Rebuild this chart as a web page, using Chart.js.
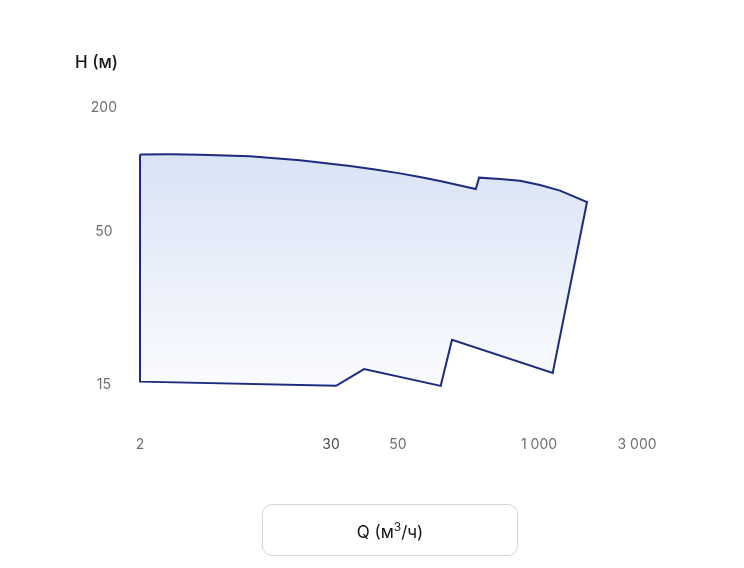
<!DOCTYPE html>
<html>
<head>
<meta charset="utf-8">
<script src="https://cdn.jsdelivr.net/npm/chart.js@4.4.1/dist/chart.umd.min.js"></script>
<style>
  body { margin: 0; background: #fff; font-family: Inter, "Noto Sans", sans-serif; }
  .wrap { position: relative; width: 744px; height: 568px; }
  .y-title { position: absolute; left: 75px; top: 51px; font-size: 17px; font-weight: 500; color: #151515; line-height: 22px; }
  .x-title { position: absolute; left: 262px; top: 504px; width: 254px; height: 50px; border: 1px solid #d6d6d6; border-radius: 10px;
             display: flex; align-items: center; justify-content: center; font-size: 17px; color: #151515; padding-top: 3px; box-sizing: content-box; height: 47px; }
  .x-title sup { font-size: 12px; line-height: 0; }
</style>
</head>
<body>
<div class="wrap">
  <canvas id="range-chart"></canvas>
  <div class="y-title">H (м)</div>
  <div class="x-title"><span>Q (м<sup>3</sup>/ч)</span></div>
</div>
<script>
// axis ticks (real units) and their labels
const qTicks = [2, 30, 50, 1000, 3000];
const qTickLabels = ["2", "30", "50", "1 000", "3 000"];
const hTicks = [15, 50, 200];
const hTickLabels = ["15", "50", "200"];

// outline of the working range: flow Q (m3/h) and head H (m)
const flowQ = [2, 3.1, 4.7, 9.5, 19.3, 34.7, 42, 52.2, 79.8, 122, 187, 261, 280, 437, 668, 1011, 1266, 1713, 1166, 157.5, 123.9, 38.6, 31.2, 2, 2];
const headH = [118.7, 118.9, 118.4, 116.3, 111.2, 104.4, 100.3, 96.0, 92.1, 88.1, 83.8, 80.6, 91.5, 90.1, 88.4, 84.3, 79.1, 69.6, 16.5, 21.4, 14.9, 17.0, 14.9, 15.4, 118.7];

// where each tick sits along its axis (the axes are not evenly spaced)
const qTickPos = [0, 191, 258, 399, 497];
const hTickPos = [0, 153.5, 277];

//piecewise log mapping between ticks
function toPos(v, vals, pos){
    const lv = Math.log10(v);
    let i = 0;
    while(i < vals.length - 2 && lv > Math.log10(vals[i + 1])){
        i++;
    }
    const a = Math.log10(vals[i]);
    const b = Math.log10(vals[i + 1]);
    return pos[i] + (lv - a) / (b - a) * (pos[i + 1] - pos[i]);
}

const points = flowQ.map((q, i) => ({x: toPos(q, qTicks, qTickPos), y: toPos(headH[i], hTicks, hTickPos)}));

Chart.defaults.font.family = "Inter";
Chart.defaults.font.size = 14;
Chart.defaults.color = "#6f6f6f";

const chart = document.getElementById("range-chart");
new Chart(chart, {
    type: "line",
    data: {
        datasets: [{
            data: points,
            borderColor: "#1d2b7f",
            borderWidth: 2,
            borderJoinStyle: "miter",
            pointRadius: 0,
            tension: 0,
            clip: 10,
            fill: "shape",
            backgroundColor: (ctx) => {
                const c = ctx.chart;
                if(!c.chartArea) return "#e6ecf8";
                const yScale = c.scales.y;
                const top = yScale.getPixelForValue(toPos(119, hTicks, hTickPos));
                const bottom = yScale.getPixelForValue(toPos(15, hTicks, hTickPos));
                const g = c.ctx.createLinearGradient(0, top, 0, bottom);
                g.addColorStop(0, "#d9e3f5");
                g.addColorStop(1, "#fafbff");
                return g;
            }
        }]
    },
    options: {
        responsive: true,
        maintainAspectRatio: false,
        animation: false,
        layout: {padding: {left: 0, right: 107, top: 108, bottom: 103}},
        plugins: {
            legend: {display: false},
            tooltip: {enabled: false}
        },
        scales: {
            x: {
                type: "linear",
                min: qTickPos[0],
                max: qTickPos[qTickPos.length - 1],
                grid: {display: false},
                border: {display: false},
                afterBuildTicks: (scale) => { scale.ticks = qTickPos.map(v => ({value: v})); },
                afterFit: (scale) => { scale.height = 80; },
                ticks: {
                    padding: 43,
                    maxRotation: 0,
                    autoSkip: false,
                    color: (ctx) => ctx.index === 1 ? "#4a4a4a" : "#6f6f6f",
                    callback: (value, index) => qTickLabels[index]
                }
            },
            y: {
                type: "linear",
                min: hTickPos[0],
                max: hTickPos[hTickPos.length - 1],
                grid: {display: false},
                border: {display: false},
                afterBuildTicks: (scale) => { scale.ticks = hTickPos.map(v => ({value: v})); },
                afterFit: (scale) => { scale.width = 140; },
                ticks: {
                    padding: 15,
                    crossAlign: "center",
                    autoSkip: false,
                    callback: (value, index) => hTickLabels[index]
                }
            }
        }
    }
});
</script>
</body>
</html>
